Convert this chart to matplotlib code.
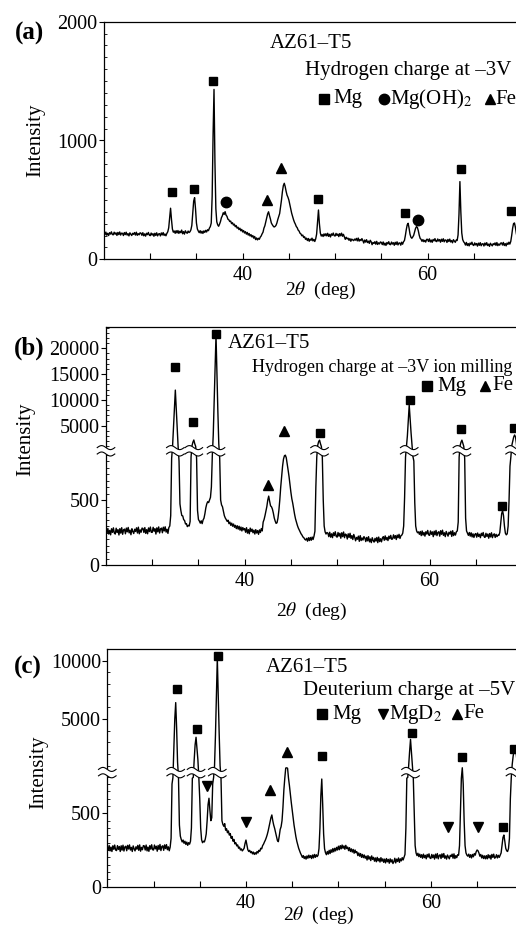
import numpy as np
import matplotlib
matplotlib.use("Agg")
import matplotlib.pyplot as plt
import matplotlib.transforms as mtransforms
from matplotlib.lines import Line2D
from matplotlib.ticker import FixedLocator, FuncFormatter, NullFormatter

plt.rcParams['font.family'] = ['Liberation Serif', 'DejaVu Sans']
plt.rcParams['mathtext.fontset'] = 'stix'

W, H, DPI = 516, 927, 100

# scans: one value every 0.1 deg from 25.0 deg, one row per degree
start_deg = 25.0
step_deg = 0.1

cps_a = [
    225, 207, 229, 203, 219, 200, 224, 212, 231, 209,  # 25
    206, 228, 211, 223, 201, 226, 208, 230, 204, 220,  # 26
    219, 200, 225, 208, 228, 204, 216, 197, 223, 211,  # 27
    200, 219, 210, 225, 204, 228, 202, 216, 206, 223,  # 28
    220, 202, 224, 198, 214, 195, 219, 207, 226, 204,  # 29
    199, 221, 204, 216, 194, 219, 201, 223, 197, 213,  # 30
    216, 197, 222, 205, 225, 201, 213, 198, 218, 232,  # 31
    265, 345, 430, 335, 255, 228, 238, 219, 241, 222,  # 32
    242, 218, 236, 224, 246, 215, 233, 212, 240, 226,  # 33
    219, 238, 225, 232, 248, 285, 385, 490, 519, 425,  # 34
    305, 255, 238, 224, 241, 220, 236, 218, 239, 226,  # 35
    244, 230, 249, 241, 262, 275, 305, 530, 1050, 1430,  # 36
    820, 425, 315, 290, 278, 296, 318, 350, 366, 392,  # 37
    378, 401, 372, 362, 338, 333, 318, 322, 300, 308,  # 38
    288, 296, 274, 284, 262, 270, 250, 262, 240, 252,  # 39
    230, 242, 221, 233, 212, 226, 204, 217, 196, 208,  # 40
    188, 200, 178, 192, 166, 180, 163, 177, 168, 186,  # 41
    196, 214, 228, 262, 282, 315, 345, 382, 400, 368,  # 42
    340, 306, 292, 280, 272, 276, 285, 305, 335, 360,  # 43
    385, 440, 500, 570, 620, 640, 612, 572, 540, 522,  # 44
    498, 462, 422, 388, 360, 334, 312, 296, 276, 266,  # 45
    246, 238, 220, 214, 198, 204, 184, 190, 168, 178,  # 46
    158, 175, 152, 170, 160, 178, 155, 168, 150, 172,  # 47
    212, 320, 415, 300, 222, 196, 208, 192, 214, 198,  # 48
    215, 197, 219, 193, 210, 188, 214, 202, 221, 199,  # 49
    196, 218, 201, 213, 191, 216, 198, 220, 194, 210,  # 50
    190, 168, 186, 172, 178, 160, 174, 152, 170, 163,  # 51
    157, 170, 161, 176, 155, 179, 153, 167, 157, 174,  # 52
    158, 137, 162, 145, 165, 141, 153, 134, 160, 148,  # 53
    123, 142, 133, 148, 127, 151, 125, 139, 129, 146,  # 54
    142, 124, 146, 120, 136, 117, 141, 129, 148, 126,  # 55
    123, 145, 128, 140, 118, 143, 125, 147, 121, 137,  # 56
    138, 119, 144, 127, 148, 158, 200, 250, 290, 303,  # 57
    262, 212, 186, 177, 188, 202, 232, 260, 275, 268,  # 58
    240, 202, 176, 168, 151, 166, 148, 160, 145, 168,  # 59
    168, 150, 172, 146, 162, 143, 167, 155, 174, 152,  # 60
    149, 171, 154, 166, 144, 169, 151, 173, 147, 163,  # 61
    161, 142, 167, 150, 170, 146, 158, 139, 165, 153,  # 62
    143, 162, 158, 205, 380, 654, 400, 222, 166, 148,  # 63
    138, 120, 142, 116, 132, 113, 137, 125, 144, 122,  # 64
    116, 138, 121, 133, 111, 136, 118, 140, 114, 130,  # 65
    131, 112, 137, 120, 140, 116, 128, 109, 135, 123,  # 66
    113, 132, 123, 138, 117, 141, 115, 129, 119, 136,  # 67
    138, 120, 142, 116, 132, 113, 137, 125, 144, 128,  # 68
    150, 200, 260, 300, 306, 270, 220, 180, 160, 150,  # 69
    140,
]

cps_b = [
    275, 244, 281, 238, 266, 232, 279, 251, 286, 246,  # 25
    238, 283, 250, 272, 231, 280, 245, 287, 236, 270,  # 26
    276, 240, 284, 255, 289, 247, 268, 233, 279, 258,  # 27
    242, 275, 258, 286, 246, 291, 240, 270, 252, 284,  # 28
    281, 250, 288, 243, 272, 240, 285, 257, 292, 252,  # 29
    251, 290, 260, 279, 238, 286, 255, 293, 246, 277,  # 30
    284, 248, 291, 262, 294, 253, 275, 243, 288, 300,  # 31
    380, 820, 1000, 4600, 8200, 11900, 8200, 4600, 1000, 800,  # 32
    470, 418, 380, 378, 349, 342, 316, 318, 295, 305,  # 33
    300, 335, 830, 1100, 1800, 2230, 1500, 1000, 820, 420,  # 34
    350, 338, 322, 340, 318, 346, 360, 395, 440, 470,  # 35
    487, 480, 500, 520, 600, 840, 3200, 9700, 16100, 22600,  # 36
    15000, 7800, 1500, 820, 500, 462, 448, 412, 380, 362,  # 37
    350, 336, 345, 318, 330, 305, 322, 298, 315, 290,  # 38
    305, 280, 302, 276, 298, 268, 292, 262, 288, 270,  # 39
    280, 252, 287, 245, 272, 240, 284, 258, 276, 248,  # 40
    268, 238, 272, 246, 265, 236, 270, 250, 280, 262,  # 41
    330, 350, 380, 415, 450, 500, 530, 490, 455, 448,  # 42
    430, 400, 362, 338, 320, 325, 360, 420, 500, 600,  # 43
    680, 760, 815, 840, 845, 825, 780, 730, 680, 620,  # 44
    560, 510, 475, 430, 390, 355, 330, 305, 285, 270,  # 45
    255, 240, 230, 216, 210, 198, 192, 205, 183, 210,  # 46
    188, 212, 190, 215, 196, 222, 260, 600, 830, 1200,  # 47
    1900, 2200, 1500, 950, 830, 500, 300, 255, 238, 250,  # 48
    245, 218, 252, 214, 240, 210, 248, 226, 256, 220,  # 49
    214, 250, 222, 244, 206, 248, 218, 254, 210, 238,  # 50
    232, 200, 240, 212, 244, 205, 226, 196, 235, 214,  # 51
    186, 212, 198, 222, 182, 226, 188, 208, 192, 218,  # 52
    208, 180, 212, 186, 218, 178, 200, 172, 210, 188,  # 53
    176, 205, 184, 212, 172, 215, 180, 202, 178, 208,  # 54
    218, 190, 224, 194, 212, 188, 222, 202, 228, 198,  # 55
    200, 232, 206, 226, 196, 230, 210, 236, 204, 225,  # 56
    230, 245, 300, 520, 830, 1000, 3000, 6000, 9000, 6200,  # 57
    3600, 1200, 835, 800, 480, 300, 262, 248, 255, 236,  # 58
    258, 226, 262, 230, 250, 222, 256, 238, 266, 232,  # 59
    228, 262, 236, 255, 218, 260, 232, 266, 226, 250,  # 60
    256, 222, 264, 236, 268, 228, 248, 218, 258, 240,  # 61
    222, 252, 238, 260, 220, 264, 226, 248, 230, 256,  # 62
    262, 330, 830, 1100, 1800, 2200, 1600, 1000, 820, 360,  # 63
    262, 245, 228, 250, 222, 248, 216, 240, 212, 236,  # 64
    242, 214, 246, 220, 236, 210, 244, 226, 250, 218,  # 65
    212, 244, 220, 238, 206, 242, 216, 248, 210, 232,  # 66
    240, 212, 236, 218, 230, 228, 250, 320, 395, 418,  # 67
    380, 300, 245, 232, 240, 300, 500, 760, 835, 1200,  # 68
    2000, 2800, 3200, 2800, 1500, 840, 700, 450, 330, 280,  # 69
    260,
]

cps_c = [
    275, 248, 281, 244, 270, 240, 279, 255, 284, 250,  # 25
    246, 280, 254, 274, 240, 279, 249, 283, 243, 271,  # 26
    276, 245, 282, 257, 285, 250, 268, 240, 278, 258,  # 27
    244, 272, 256, 282, 248, 285, 242, 268, 252, 280,  # 28
    278, 250, 284, 244, 270, 241, 280, 256, 286, 252,  # 29
    250, 284, 258, 276, 242, 281, 254, 288, 246, 274,  # 30
    279, 248, 285, 260, 287, 252, 272, 245, 270, 330,  # 31
    700, 745, 2400, 5000, 6400, 4200, 1300, 745, 420, 345,  # 32
    322, 305, 318, 296, 310, 288, 304, 282, 300, 290,  # 33
    310, 400, 740, 745, 1500, 2800, 3430, 2500, 1500, 745,  # 34
    600, 400, 320, 300, 310, 305, 325, 360, 450, 560,  # 35
    603, 520, 450, 470, 700, 745, 1000, 3600, 6800, 10200,  # 36
    7000, 3800, 1000, 740, 450, 425, 412, 430, 385, 395,  # 37
    368, 380, 352, 362, 330, 342, 310, 322, 292, 300,  # 38
    278, 285, 262, 270, 250, 258, 244, 252, 262, 295,  # 39
    318, 285, 252, 240, 248, 232, 240, 224, 236, 220,  # 40
    232, 222, 240, 230, 248, 242, 262, 258, 280, 290,  # 41
    305, 318, 335, 355, 380, 410, 440, 470, 489, 450,  # 42
    420, 398, 370, 340, 315, 307, 345, 390, 409, 450,  # 43
    540, 659, 740, 790, 814, 780, 740, 690, 630, 575,  # 44
    523, 470, 420, 380, 341, 310, 285, 262, 245, 228,  # 45
    215, 200, 212, 192, 206, 188, 210, 194, 215, 198,  # 46
    212, 192, 216, 196, 220, 200, 218, 205, 215, 260,  # 47
    400, 620, 734, 560, 360, 260, 232, 218, 240, 222,  # 48
    248, 226, 252, 234, 260, 238, 262, 244, 268, 250,  # 49
    276, 252, 280, 258, 284, 262, 278, 255, 282, 260,  # 50
    270, 246, 266, 240, 258, 236, 254, 228, 250, 232,  # 51
    238, 212, 230, 208, 226, 200, 220, 198, 216, 194,  # 52
    208, 182, 212, 188, 204, 178, 210, 186, 200, 174,  # 53
    196, 170, 200, 176, 192, 168, 198, 174, 190, 166,  # 54
    188, 162, 192, 170, 186, 160, 190, 168, 184, 158,  # 55
    170, 194, 162, 188, 172, 196, 166, 190, 176, 198,  # 56
    182, 200, 220, 400, 740, 745, 1000, 2200, 3250, 2100,  # 57
    900, 740, 500, 280, 230, 212, 228, 205, 222, 200,  # 58
    218, 194, 222, 198, 214, 190, 220, 202, 224, 196,  # 59
    192, 220, 198, 216, 188, 222, 196, 226, 190, 212,  # 60
    218, 192, 224, 200, 226, 194, 210, 188, 216, 202,  # 61
    190, 214, 206, 222, 194, 224, 192, 212, 198, 218,  # 62
    215, 280, 500, 740, 818, 700, 450, 280, 230, 215,  # 63
    208, 222, 200, 218, 196, 220, 204, 226, 215, 238,  # 64
    250, 245, 230, 208, 220, 196, 214, 192, 210, 190,  # 65
    212, 190, 218, 196, 214, 188, 220, 200, 222, 194,  # 66
    200, 218, 196, 214, 200, 215, 230, 280, 335, 352,  # 67
    310, 262, 245, 240, 260, 330, 600, 745, 1100, 1800,  # 68
    2300, 2600, 2300, 1500, 800, 600, 450, 330, 290, 270,  # 69
    260,
]

# phase marks: 2theta and level
mg_a_tt = [32.35, 34.75, 36.8, 48.1, 57.6, 63.6, 69.05]
mg_a_y = [564, 590, 1505, 505, 387, 758, 404]
oh_a_tt = [38.2, 59.0]
oh_a_y = [480, 331]
fe_a_tt = [42.6, 44.2]
fe_a_y = [500, 767]

mg_b_tt = [32.5, 34.4, 36.9, 48.2, 57.9, 63.4, 67.86, 69.1]
mg_b_y = [16430, 5775, 22700, 3530, 9980, 4300, 456, 4500]
fe_b_tt = [42.56, 44.3]
fe_b_y = [613, 4030]

mg_c_tt = [32.54, 34.66, 36.93, 48.2, 57.95, 63.4, 67.85, 69.0]
mg_c_y = [7600, 4110, 10400, 1850, 3820, 1710, 409, 2400]
d2_c_tt = [35.74, 40.03, 61.9, 65.1]
d2_c_y = [688, 439, 405, 405]
fe_c_tt = [42.6, 44.4]
fe_c_y = [659, 2140]

# broken intensity axis: (break value, lower slope, upper offset, upper slope, top)
brk_b = (850, 0.13, 113.5, 0.00516, 24070)
brk_c = (750, 0.1467, 109.4, 0.01167, 10968)
mark_min = 1000

BRK_HALF_W = 0.95   # deg
BRK_AMP = 2.0       # px
BRK_GAP = 3.2       # px
LW = 1.0


def fxy(px, py):
    return px / W, 1 - py / H


def grid(vals):
    return start_deg + step_deg * np.arange(len(vals))


def break_scale(brk, s_lo, off, s_hi):
    def fwd(y):
        y = np.asarray(y, float)
        return np.where(y <= brk, y * s_lo, off + y * s_hi)

    def inv(u):
        u = np.asarray(u, float)
        lo_top = brk * s_lo
        hi_bot = off + brk * s_hi
        return np.where(u <= lo_top, u / s_lo,
                        np.where(u >= hi_bot, (u - off) / s_hi, brk))
    return fwd, inv


def peak_runs(tt, cps, thr):
    out = []
    i = 0
    while i < len(cps):
        if cps[i] > thr:
            j = i
            while j < len(cps) and cps[j] > thr:
                j += 1
            out.append(tt[i + int(np.argmax(cps[i:j]))])
            i = j
        else:
            i += 1
    return out


def draw_break(ax, x0, yfrac, hpx):
    t = np.linspace(-1, 1, 41)
    xs = x0 + BRK_HALF_W * t
    wave = -BRK_AMP * np.sin(np.pi * t)
    up = yfrac + (BRK_GAP + wave) / hpx
    dn = yfrac + (-BRK_GAP + wave) / hpx
    tr = mtransforms.blended_transform_factory(ax.transData, ax.transAxes)
    ax.fill(np.r_[xs, xs[::-1]], np.r_[up, dn[::-1]], color='white', lw=0,
            transform=tr, zorder=3, clip_on=False)
    ax.plot(xs, up, color='k', lw=0.8, transform=tr, zorder=4, clip_on=False)
    ax.plot(xs, dn, color='k', lw=0.8, transform=tr, zorder=4, clip_on=False)


def style_axes(ax):
    ax.set_xlim(25, 70)
    ax.spines['right'].set_visible(False)
    for s in ['left', 'bottom', 'top']:
        ax.spines[s].set_linewidth(0.9)
    ax.xaxis.set_major_locator(FixedLocator(np.arange(30, 70, 5)))
    ax.xaxis.set_major_formatter(FuncFormatter(
        lambda v, p: f'{v:.0f}' if round(v) in (40, 60) else ''))
    ax.tick_params(axis='x', direction='in', length=4, width=0.8, pad=5,
                   labelsize=14.5, top=False)
    ax.tick_params(axis='y', which='major', direction='out', length=3.5,
                   width=0.8, pad=1, labelsize=14.5)
    ax.tick_params(axis='y', which='minor', direction='in', length=2,
                   width=0.6)
    ax.yaxis.set_minor_formatter(NullFormatter())


def marks(ax, tt, y, m, ms):
    ax.plot(tt, y, linestyle='none', marker=m, ms=ms, color='k', zorder=5,
            clip_on=False)


def legend_row(items, py, size=15):
    for mx, m, ms, tx, label in items:
        fig.add_artist(Line2D([mx / W], [1 - py / H], marker=m, ms=ms,
                              color='k', linestyle='none',
                              transform=fig.transFigure))
        fig.text(*fxy(tx, py), label, fontsize=size, ha='left', va='center')


fig = plt.figure(figsize=(W / DPI, H / DPI), dpi=DPI)
axw = 416 / W

# ---- (a)
ax_a = fig.add_axes([104 / W, 1 - 259.3 / H, axw, 237.6 / H])
ax_a.plot(grid(cps_a), cps_a, color='k', lw=LW, zorder=2)
marks(ax_a, mg_a_tt, mg_a_y, 's', 6)
marks(ax_a, oh_a_tt, oh_a_y, 'o', 7.5)
marks(ax_a, fe_a_tt, fe_a_y, '^', 7.5)
style_axes(ax_a)
ax_a.set_ylim(0, 2000)
ax_a.yaxis.set_major_locator(FixedLocator([0, 1000, 2000]))
ax_a.yaxis.set_minor_locator(FixedLocator(np.arange(0, 2001, 100)))

fig.text(*fxy(29, 33), '(a)', fontsize=18, fontweight='bold', ha='center', va='center')
fig.text(*fxy(270, 43), 'AZ61–T5', fontsize=15, ha='left', va='center')
fig.text(*fxy(305, 71), 'Hydrogen charge at –3V', fontsize=15, ha='left', va='center')
legend_row([(323.5, 's', 6.5, 333, 'Mg'),
            (384, 'o', 7.5, 390, 'Mg(OH)$_\\mathrm{2}$'),
            (489.5, '^', 7.5, 495, 'Fe')], 99)
fig.text(*fxy(36, 140), 'Intensity', fontsize=15, rotation=90, ha='center', va='center')
fig.text(*fxy(321, 290), '2$\\theta$  (deg)', fontsize=14, ha='center', va='center')


def broken_panel(rect, cps, brk, yticks, ylabels):
    ax = fig.add_axes(rect)
    fwd, inv = break_scale(*brk[:4])
    ax.set_yscale('function', functions=(fwd, inv))
    tt = grid(cps)
    arr = np.asarray(cps, float)
    ax.plot(tt, arr, color='k', lw=LW, zorder=2)
    style_axes(ax)
    ax.set_ylim(0, brk[4])
    ax.yaxis.set_major_locator(FixedLocator(yticks))
    ax.yaxis.set_major_formatter(FuncFormatter(
        lambda v, p: ylabels[yticks.index(int(round(v)))] if int(round(v)) in yticks else ''))
    minor = list(np.arange(0, brk[0] + 1, 50)) + list(np.arange(1000, brk[4], 1000))
    ax.yaxis.set_minor_locator(FixedLocator(minor))
    hpx = rect[3] * H
    total = fwd(brk[4])
    mid = 0.5 * (fwd(brk[0]) + brk[2] + brk[0] * brk[3])
    yfrac = float(mid / total)
    draw_break(ax, 25.0, yfrac, hpx)
    for x0 in peak_runs(tt, arr, mark_min):
        draw_break(ax, x0, yfrac, hpx)
    return ax


# ---- (b)
ax_b = broken_panel([106 / W, 1 - 565 / H, axw, 237.7 / H], cps_b, brk_b,
                    [0, 500, 5000, 10000, 15000, 20000],
                    ['0', '500', '5000', '10000', '15000', '20000'])
marks(ax_b, mg_b_tt, mg_b_y, 's', 6)
marks(ax_b, fe_b_tt, fe_b_y, '^', 7.5)
fig.text(*fxy(29, 348), '(b)', fontsize=18, fontweight='bold', ha='center', va='center')
fig.text(*fxy(228, 343), 'AZ61–T5', fontsize=15, ha='left', va='center')
fig.text(*fxy(252, 367), 'Hydrogen charge at –3V ion milling', fontsize=13,
         ha='left', va='center')
legend_row([(427, 's', 6.5, 437, 'Mg'), (485, '^', 7.5, 492, 'Fe')], 386)
fig.text(*fxy(25.5, 439), 'Intensity', fontsize=15, rotation=90, ha='center', va='center')
fig.text(*fxy(312, 611), '2$\\theta$  (deg)', fontsize=14, ha='center', va='center')

# ---- (c)
ax_c = broken_panel([107.3 / W, 1 - 886.7 / H, axw, 237.4 / H], cps_c, brk_c,
                    [0, 500, 5000, 10000], ['0', '500', '5000', '10000'])
marks(ax_c, mg_c_tt, mg_c_y, 's', 6)
marks(ax_c, d2_c_tt, d2_c_y, 'v', 7.5)
marks(ax_c, fe_c_tt, fe_c_y, '^', 7.5)
fig.text(*fxy(28, 667), '(c)', fontsize=18, fontweight='bold', ha='center', va='center')
fig.text(*fxy(266, 668), 'AZ61–T5', fontsize=15, ha='left', va='center')
fig.text(*fxy(303, 691), 'Deuterium charge at –5V', fontsize=15, ha='left', va='center')
legend_row([(322, 's', 6.5, 332, 'Mg'),
            (383, 'v', 7.5, 389, 'MgD$_\\mathrm{2}$'),
            (457, '^', 7.5, 463, 'Fe')], 714)
fig.text(*fxy(38.3, 772), 'Intensity', fontsize=15, rotation=90, ha='center', va='center')
fig.text(*fxy(319, 915), '2$\\theta$  (deg)', fontsize=14, ha='center', va='center')

fig.savefig('out.png', dpi=DPI)
